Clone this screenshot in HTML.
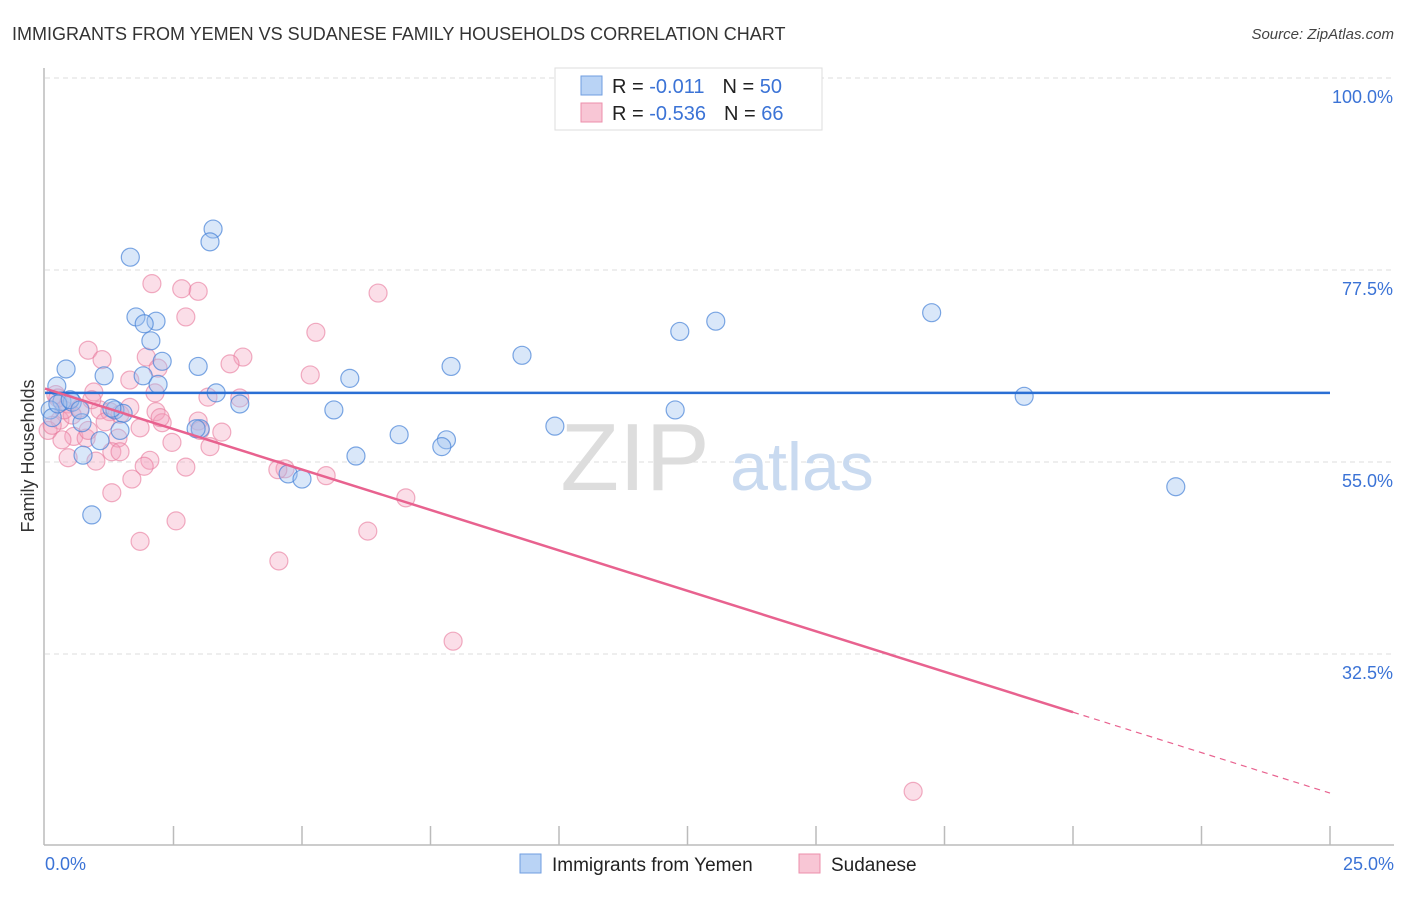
<!DOCTYPE html>
<html><head><meta charset="utf-8"><style>
body{margin:0;background:#fff;font-family:"Liberation Sans",sans-serif;}
svg text{font-family:"Liberation Sans",sans-serif;}
</style></head><body>
<svg id="chart" width="1406" height="892" xmlns="http://www.w3.org/2000/svg">
<text x="12" y="40" font-size="18" fill="#333">IMMIGRANTS FROM YEMEN VS SUDANESE FAMILY HOUSEHOLDS CORRELATION CHART</text>
<text x="1394" y="39" font-size="15" fill="#444" font-style="italic" text-anchor="end">Source: ZipAtlas.com</text>
<g id="grid"></g>
<text x="635" y="490" font-size="96" fill="#ddd" font-family="Liberation Serif,serif" text-anchor="middle">ZIP</text>
<text x="802" y="490" font-size="68" fill="#c9daf0" text-anchor="middle">atlas</text>
<line x1="44" y1="68" x2="44" y2="845" stroke="#bbb" stroke-width="1.5"/>
<line x1="44" y1="845" x2="1394" y2="845" stroke="#bbb" stroke-width="1.5"/>
<g id="ticks"></g>
<g id="pts"></g>
<g id="trend"></g>
<text x="34" y="456" font-size="18" fill="#333" text-anchor="middle" transform="rotate(-90 34 456)">Family Households</text>
<text x="45" y="870" font-size="18" fill="#3b73d6">0.0%</text>
<text x="1394" y="870" font-size="18" fill="#3b73d6" text-anchor="end">25.0%</text>
<g>
<rect x="555" y="68" width="267" height="62" fill="#fff" stroke="#ddd"/>
<rect x="581" y="76" width="21" height="19" fill="#b9d3f5" stroke="#6f9ee0"/>
<rect x="581" y="103" width="21" height="19" fill="#f8c6d5" stroke="#ec8fab"/>
<text x="612" y="93" font-size="20" fill="#222">R = <tspan fill="#3b73d6"> -0.011</tspan><tspan dx="18">N = </tspan><tspan fill="#3b73d6">50</tspan></text>
<text x="612" y="120" font-size="20" fill="#222">R = <tspan fill="#3b73d6">-0.536</tspan><tspan dx="18">N = </tspan><tspan fill="#3b73d6"> 66</tspan></text>
</g>
<g>
<rect x="520" y="854" width="21" height="19" fill="#b9d3f5" stroke="#6f9ee0"/>
<text x="552" y="871" font-size="19" fill="#222">Immigrants from Yemen</text>
<rect x="799" y="854" width="21" height="19" fill="#f8c6d5" stroke="#ec8fab"/>
<text x="831" y="871" font-size="19" fill="#222">Sudanese</text>
</g>
</svg>
<script>
const yTickValues=[100,77.5,55,32.5];
const yTickLabels=["100.0%","77.5%","55.0%","32.5%"];
const xTickValues=[0,2.5,5,7.5,10,12.5,15,17.5,20,22.5,25];
const blueX=[1.66,3.27,3.21,1.77,2.16,1.93,2.06,2.28,0.41,1.15,1.91,2.98,2.2,0.23,3.33,3.79,0.33,0.53,1.36,1.52,0.72,3.02,2.94,1.07,0.74,0.91,4.73,5.0,5.93,5.62,6.05,6.89,7.81,7.72,7.9,9.28,9.92,12.26,12.35,13.05,17.25,19.05,22.0,0.1,0.14,0.25,0.49,0.68,1.3,1.46];
const blueY=[79.0,82.3,80.8,72.0,71.5,71.2,69.2,66.8,65.9,65.1,65.1,66.2,64.1,63.9,63.1,61.8,62.1,62.0,61.1,60.7,59.6,58.9,58.9,57.5,55.8,48.8,53.6,53.0,64.8,61.1,55.7,58.2,57.6,56.8,66.2,67.5,59.2,61.1,70.3,71.5,72.5,62.7,52.1,61.1,60.2,61.8,62.3,61.1,61.3,58.7];
const pinkX=[2.08,2.66,2.98,6.48,2.74,5.27,0.84,1.11,1.97,3.85,2.2,1.65,3.6,5.16,0.95,2.14,3.17,0.21,0.45,0.68,1.07,1.26,1.46,2.16,0.29,2.28,2.98,1.85,3.44,0.56,0.8,1.42,2.47,0.33,1.3,1.46,0.45,0.99,2.04,3.21,1.93,2.74,4.67,5.47,1.69,1.3,7.02,2.55,1.85,6.28,4.55,7.94,16.89,0.06,0.14,0.25,0.53,0.91,1.65,1.17,0.84,0.37,3.79,4.53,3.02,2.24];
const pinkY=[75.9,75.3,75.0,74.8,72.0,70.2,68.1,67.0,67.3,67.3,66.0,64.6,66.5,65.2,63.2,63.1,62.6,62.9,61.8,61.3,61.1,60.9,60.6,60.9,59.9,59.6,59.8,59.0,58.5,58.0,57.8,57.8,57.3,57.6,56.2,56.2,55.5,55.1,55.2,56.8,54.5,54.4,54.2,53.4,53.0,51.4,50.8,48.1,45.7,46.9,43.4,34.0,16.4,58.7,59.3,62.5,60.5,62.3,61.4,59.7,58.7,61.1,62.5,54.1,58.7,60.2];
const blueTrend=[63.1,63.1];
const pinkTrend=[63.6,16.2];
const pinkSolidEnd=20;

const X=v=>45+v*(1285/25);
const Y=v=>78+(100-v)*(192/22.5);
const NS="http://www.w3.org/2000/svg";
function mk(tag,attrs,parent){const e=document.createElementNS(NS,tag);for(const k in attrs)e.setAttribute(k,attrs[k]);parent.appendChild(e);return e;}
const grid=document.getElementById('grid');
yTickValues.forEach((v,i)=>{
  const l=mk('line',{x1:45,x2:1394,y1:Y(v),y2:Y(v),stroke:'#ddd','stroke-dasharray':'5,4'},grid);
  
  
  const t=mk('text',{x:1393,y:Y(v)+25,'font-size':18,fill:'#3b73d6','text-anchor':'end'},grid);
  t.textContent=yTickLabels[i];
  
  
});
const ticks=document.getElementById('ticks');
xTickValues.slice(1).forEach(v=>{
  const l=mk('line',{x1:X(v),x2:X(v),y1:826,y2:845,stroke:'#bbb','stroke-width':1.5},ticks);
  
  
});
const pts=document.getElementById('pts');
pinkX.forEach((x,i)=>{
  const c=mk('circle',{cx:X(x),cy:Y(pinkY[i]),r:9,fill:'rgba(244,160,188,0.35)',stroke:'rgba(232,120,155,0.6)','stroke-width':1.2},pts);
  
  
});
blueX.forEach((x,i)=>{
  const c=mk('circle',{cx:X(x),cy:Y(blueY[i]),r:9,fill:'rgba(160,196,240,0.4)',stroke:'rgba(70,130,215,0.7)','stroke-width':1.2},pts);
  
  
});
const tr=document.getElementById('trend');
const b=mk('line',{x1:X(0),y1:Y(blueTrend[0]),x2:X(25),y2:Y(blueTrend[1]),stroke:'#2a6fd4','stroke-width':2.5},tr);


const pv=x=>pinkTrend[0]+(pinkTrend[1]-pinkTrend[0])*x/25;
const p1=mk('line',{x1:X(0),y1:Y(pv(0)),x2:X(pinkSolidEnd),y2:Y(pv(pinkSolidEnd)),stroke:'#e8628f','stroke-width':2.5},tr);


const p2=mk('line',{x1:X(pinkSolidEnd),y1:Y(pv(pinkSolidEnd)),x2:X(25),y2:Y(pv(25)),stroke:'#e8628f','stroke-width':1.2,'stroke-dasharray':'6,5'},tr);


</script>
</body></html>
